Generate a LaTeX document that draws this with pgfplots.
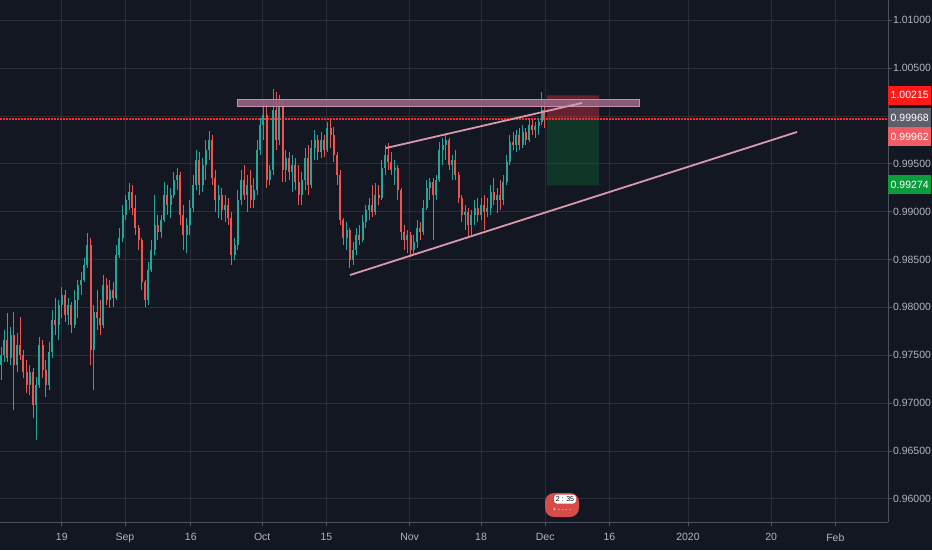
\documentclass[border=0pt]{standalone}
\usepackage{fontspec}
\setmainfont{Liberation Sans}
\usepackage{pgfplots}
\usepackage{pgfplotstable}
\pgfplotsset{compat=1.18}
\definecolor{bg}{HTML}{131722}
\definecolor{gridc}{HTML}{2A2E39}
\definecolor{axisc}{HTML}{4E525D}
\definecolor{labc}{HTML}{B2B5BE}
\definecolor{upc}{HTML}{26A69A}
\definecolor{dnc}{HTML}{EF5350}
\definecolor{pinkline}{HTML}{DA98AE}
\definecolor{pinkfill}{HTML}{946483}
\definecolor{pinkedge}{HTML}{C98FAC}
\definecolor{reddot}{HTML}{FF2A2A}
\definecolor{tagred}{HTML}{FF1A1A}
\definecolor{taggray}{HTML}{5D606B}
\definecolor{tagsal}{HTML}{F05D64}
\definecolor{taggreen}{HTML}{0C9C3C}
\definecolor{slred}{HTML}{F23645}
\definecolor{tpgreen}{HTML}{0A9A3A}

\pgfplotstableread{
d o h l c
-9.5 0.97398 0.97586 0.97241 0.97502
-9.0 0.97502 0.97764 0.97429 0.97659
-8.5 0.97659 0.97941 0.97429 0.97471
-8.0 0.97471 0.97795 0.97398 0.97711
-7.5 0.97711 0.97952 0.96928 0.97398
-7.0 0.97398 0.97732 0.97325 0.97607
-6.5 0.97607 0.97899 0.97450 0.97502
-6.0 0.97502 0.97555 0.97262 0.97325
-5.5 0.97325 0.97450 0.97105 0.97189
-5.0 0.97189 0.97398 0.97084 0.97325
-4.5 0.97325 0.97366 0.96844 0.96980
-4.0 0.96980 0.97272 0.96614 0.97189
-3.5 0.97189 0.97690 0.97157 0.97607
-3.0 0.97607 0.97659 0.97262 0.97346
-2.5 0.97346 0.97450 0.97063 0.97189
-2.0 0.97189 0.97638 0.97137 0.97534
-1.5 0.97534 0.97973 0.97471 0.97868
-1.0 0.97868 0.98098 0.97711 0.97816
-0.5 0.97816 0.98077 0.97659 0.98025
0.0 0.98025 0.98213 0.97889 0.98129
0.5 0.98129 0.98182 0.97847 0.97920
1.0 0.97920 0.98098 0.97816 0.98025
1.5 0.98025 0.98056 0.97732 0.97816
2.0 0.97816 0.98182 0.97784 0.98077
2.5 0.98077 0.98286 0.97889 0.98234
3.0 0.98234 0.98370 0.98129 0.98286
3.5 0.98286 0.98516 0.98265 0.98443
4.0 0.98443 0.98777 0.98411 0.98652
4.5 0.98652 0.98725 0.97398 0.97555
5.0 0.97555 0.98025 0.97137 0.97952
5.5 0.97952 0.98182 0.97764 0.97889
6.0 0.97889 0.98077 0.97711 0.97816
6.5 0.97816 0.98338 0.97784 0.98234
7.0 0.98234 0.98307 0.98025 0.98077
7.5 0.98077 0.98286 0.97993 0.98182
8.0 0.98182 0.98265 0.98004 0.98098
8.5 0.98098 0.98652 0.98077 0.98547
9.0 0.98547 0.98830 0.98516 0.98725
9.5 0.98725 0.99070 0.98683 0.98965
10.0 0.98965 0.99174 0.98913 0.99122
10.5 0.99122 0.99300 0.99017 0.99206
11.0 0.99206 0.99279 0.98965 0.99038
11.5 0.99038 0.99174 0.98756 0.98830
12.0 0.98830 0.98861 0.98600 0.98704
12.5 0.98704 0.98725 0.98182 0.98265
13.0 0.98265 0.98286 0.98004 0.98077
13.5 0.98077 0.98474 0.98025 0.98391
14.0 0.98391 0.98704 0.98370 0.98600
14.5 0.98600 0.99174 0.98547 0.98861
15.0 0.98861 0.98965 0.98704 0.98788
15.5 0.98788 0.98965 0.98725 0.98913
16.0 0.98913 0.99310 0.98892 0.99174
16.5 0.99174 0.99279 0.98965 0.99070
17.0 0.99070 0.99247 0.98934 0.99174
17.5 0.99174 0.99415 0.99143 0.99331
18.0 0.99331 0.99456 0.99227 0.99383
18.5 0.99383 0.99415 0.98861 0.98965
19.0 0.98965 0.99070 0.98600 0.98756
19.5 0.98756 0.98934 0.98568 0.98861
20.0 0.98861 0.99122 0.98756 0.99038
20.5 0.99038 0.99383 0.98997 0.99279
21.0 0.99279 0.99645 0.99227 0.99540
21.5 0.99540 0.99624 0.99174 0.99279
22.0 0.99279 0.99561 0.99206 0.99488
22.5 0.99488 0.99749 0.99331 0.99645
23.0 0.99645 0.99843 0.99540 0.99749
23.5 0.99749 0.99801 0.99279 0.99352
24.0 0.99352 0.99436 0.98997 0.99122
24.5 0.99122 0.99279 0.98934 0.99174
25.0 0.99174 0.99247 0.98913 0.99017
25.5 0.99017 0.99174 0.98892 0.99070
26.0 0.99070 0.99143 0.98861 0.98934
26.5 0.98934 0.98997 0.98443 0.98547
27.0 0.98547 0.98725 0.98495 0.98652
27.5 0.98652 0.99227 0.98600 0.99122
28.0 0.99122 0.99436 0.99070 0.99331
28.5 0.99331 0.99488 0.99122 0.99174
29.0 0.99174 0.99383 0.98997 0.99279
29.5 0.99279 0.99436 0.99038 0.99122
30.0 0.99122 0.99352 0.99038 0.99227
30.5 0.99227 0.99749 0.99174 0.99645
31.0 0.99645 0.99979 0.99592 0.99906
31.5 0.99906 1.00146 0.99749 1.00010
32.0 1.00010 1.00115 0.99247 0.99331
32.5 0.99331 0.99488 0.99279 0.99436
33.0 0.99436 1.00282 0.99383 1.00063
33.5 1.00063 1.00251 0.99645 0.99749
34.0 0.99749 1.00219 0.99697 1.00115
34.5 1.00115 1.00167 0.99310 0.99436
35.0 0.99436 0.99645 0.99310 0.99561
35.5 0.99561 0.99624 0.99331 0.99415
36.0 0.99415 0.99592 0.99206 0.99488
36.5 0.99488 0.99561 0.99227 0.99310
37.0 0.99310 0.99488 0.99070 0.99174
37.5 0.99174 0.99415 0.99070 0.99331
38.0 0.99331 0.99665 0.99227 0.99561
38.5 0.99561 0.99697 0.99174 0.99279
39.0 0.99279 0.99749 0.99247 0.99665
39.5 0.99665 0.99854 0.99540 0.99749
40.0 0.99749 0.99801 0.99540 0.99624
40.5 0.99624 0.99833 0.99561 0.99749
41.0 0.99749 0.99801 0.99571 0.99645
41.5 0.99645 0.99937 0.99624 0.99874
42.0 0.99874 0.99958 0.99665 0.99801
42.5 0.99801 0.99885 0.99519 0.99592
43.0 0.99592 0.99624 0.99279 0.99383
43.5 0.99383 0.99436 0.98861 0.98913
44.0 0.98913 0.98934 0.98652 0.98725
44.5 0.98725 0.98892 0.98600 0.98809
45.0 0.98809 0.98830 0.98411 0.98495
45.5 0.98495 0.98683 0.98443 0.98600
46.0 0.98600 0.98830 0.98547 0.98756
46.5 0.98756 0.98861 0.98652 0.98704
47.0 0.98704 0.98965 0.98683 0.98892
47.5 0.98892 0.99070 0.98830 0.99017
48.0 0.99017 0.99143 0.98913 0.99070
48.5 0.99070 0.99279 0.98944 0.98997
49.0 0.98997 0.99300 0.98965 0.99174
49.5 0.99174 0.99279 0.99070 0.99143
50.0 0.99143 0.99540 0.99122 0.99456
50.5 0.99456 0.99697 0.99383 0.99592
51.0 0.99592 0.99718 0.99436 0.99519
51.5 0.99519 0.99624 0.99383 0.99436
52.0 0.99436 0.99540 0.99279 0.99456
52.5 0.99456 0.99488 0.99122 0.99227
53.0 0.99227 0.99247 0.98704 0.98788
53.5 0.98788 0.98861 0.98600 0.98704
54.0 0.98704 0.98809 0.98568 0.98756
54.5 0.98756 0.98788 0.98526 0.98600
55.0 0.98600 0.98756 0.98547 0.98683
55.5 0.98683 0.98913 0.98620 0.98830
56.0 0.98830 0.98892 0.98704 0.98788
56.5 0.98788 0.99122 0.98756 0.99038
57.0 0.99038 0.99331 0.99017 0.99247
57.5 0.99247 0.99352 0.99122 0.99310
58.0 0.99310 0.99352 0.98704 0.99174
58.5 0.99174 0.99383 0.99122 0.99331
59.0 0.99331 0.99728 0.99310 0.99645
59.5 0.99645 0.99770 0.99488 0.99697
60.0 0.99697 0.99801 0.99540 0.99749
60.5 0.99749 0.99770 0.99436 0.99488
61.0 0.99488 0.99592 0.99331 0.99540
61.5 0.99540 0.99645 0.99331 0.99383
62.0 0.99383 0.99415 0.99091 0.99143
62.5 0.99143 0.99174 0.98892 0.98965
63.0 0.98965 0.99070 0.98809 0.98997
63.5 0.98997 0.99038 0.98735 0.98861
64.0 0.98861 0.99017 0.98756 0.98965
64.5 0.98965 0.99122 0.98861 0.99038
65.0 0.99038 0.99143 0.98892 0.98965
65.5 0.98965 0.99143 0.98913 0.99070
66.0 0.99070 0.99174 0.98809 0.98997
66.5 0.98997 0.99143 0.98944 0.99038
67.0 0.99038 0.99279 0.98965 0.99206
67.5 0.99206 0.99352 0.99070 0.99122
68.0 0.99122 0.99247 0.98986 0.99174
68.5 0.99174 0.99331 0.99017 0.99122
69.0 0.99122 0.99383 0.99070 0.99310
69.5 0.99310 0.99592 0.99279 0.99519
70.0 0.99519 0.99801 0.99488 0.99728
70.5 0.99728 0.99833 0.99645 0.99697
71.0 0.99697 0.99854 0.99624 0.99801
71.5 0.99801 0.99874 0.99645 0.99697
72.0 0.99697 0.99906 0.99665 0.99833
72.5 0.99833 0.99874 0.99697 0.99749
73.0 0.99749 0.99979 0.99728 0.99906
73.5 0.99906 0.99958 0.99801 0.99854
74.0 0.99854 0.99937 0.99770 0.99895
74.5 0.99895 0.99979 0.99801 0.99937
75.0 0.99937 1.00251 0.99906 1.00063
75.4 1.00063 1.00167 0.99874 0.99962
}\candles

\begin{document}
\begin{tikzpicture}
\useasboundingbox (0pt,0pt) rectangle (932pt,550pt);
\fill[bg] (0pt,0pt) rectangle (932pt,550pt);
\begin{axis}[
  at={(0pt,550pt)}, anchor=north west,
  scale only axis, width=888pt, height=522pt,
  xmin=-9.656, xmax=129.09, ymin=0.95757, ymax=1.01212,
  enlargelimits=false, clip=false,
  axis x line*=bottom, axis y line*=right,
  axis line style={-, draw=axisc, line width=0.9pt},
  tick align=outside, major tick length=4pt,
  tick style={draw=axisc, line width=0.8pt},
  grid=major, major grid style={draw=gridc, line width=0.8pt},
  xtick={0,9.86,20.16,31.31,41.34,54.34,65.5,75.53,85.56,97.83,110.83,120.86},
  xticklabels={19,Sep,16,Oct,15,Nov,18,Dec,16,2020,20,Feb},
  ytick={0.96,0.965,0.97,0.975,0.98,0.985,0.99,0.995,1.0,1.005,1.01},
  yticklabels={0.96000,0.96500,0.97000,0.97500,0.98000,0.98500,0.99000,0.99500,{},1.00500,1.01000},
  xticklabel style={font=\fontsize{10.5}{12}\selectfont, text=labc, yshift=-4pt},
  yticklabel style={font=\fontsize{10.5}{12}\selectfont, text=labc, anchor=west, xshift=-2.5pt},
]
% current price dotted line
\addplot[reddot, line width=1.2pt, dash pattern=on 1.5pt off 1.5pt] coordinates {(-9.656,0.99968) (129.09,0.99968)};
% candles: wicks and bodies
\addplot[upc, line width=0.7pt, quiver={u=0, v=\thisrow{h}-\thisrow{l}},
  restrict expr to domain={\thisrow{c}-\thisrow{o}}{0:1}] table[x=d, y=l] {\candles};
\addplot[upc, line width=1.9pt, quiver={u=0, v=\thisrow{c}-\thisrow{o}},
  restrict expr to domain={\thisrow{c}-\thisrow{o}}{0:1}] table[x=d, y=o] {\candles};
\addplot[dnc, line width=0.7pt, quiver={u=0, v=\thisrow{h}-\thisrow{l}},
  restrict expr to domain={\thisrow{c}-\thisrow{o}}{-1:-0.000001}] table[x=d, y=l] {\candles};
\addplot[dnc, line width=1.9pt, quiver={u=0, v=\thisrow{c}-\thisrow{o}},
  restrict expr to domain={\thisrow{c}-\thisrow{o}}{-1:-0.000001}] table[x=d, y=o] {\candles};
% position tool: stop (red) and target (green)
\addplot[draw=none, fill=slred, fill opacity=0.36] coordinates {(75.81,0.99968) (83.94,0.99968) (83.94,1.00215) (75.81,1.00215) (75.81,0.99968)};
\addplot[draw=none, fill=tpgreen, fill opacity=0.24] coordinates {(75.81,0.99274) (83.94,0.99274) (83.94,0.99968) (75.81,0.99968) (75.81,0.99274)};
% resistance zone
\addplot[draw=pinkedge, line width=1pt, fill=pinkfill, fill opacity=0.9] coordinates {(27.53,1.00099) (90.19,1.00099) (90.19,1.00177) (27.53,1.00177) (27.53,1.00099)};
% wedge lines
\addplot[pinkline, line width=1.8pt] coordinates {(50.66,0.99665) (81.28,1.00136)};
\addplot[pinkline, line width=1.8pt] coordinates {(45.03,0.98338) (114.88,0.99833)};
% price tags
\tikzset{tag/.style={anchor=west, text=white, inner sep=0pt, minimum width=43pt, minimum height=19pt, font=\fontsize{10.5}{12}\selectfont}}
\node[tag, fill=tagred] at (axis cs:129.09,1.00219) {1.00215};
\node[tag, fill=taggray] at (axis cs:129.09,0.99984) {0.99968};
\node[tag, fill=tagsal] at (axis cs:129.09,0.99786) {0.99962};
\node[tag, fill=taggreen] at (axis cs:129.09,0.99279) {0.99274};
\end{axis}
% event marker at the bottom
\node[fill=dnc!90!black, rounded corners=9pt, minimum width=34pt, minimum height=24pt, inner sep=0pt] at (562pt,45pt) {};
\node[fill=white, rounded corners=3pt, minimum width=22pt, minimum height=9pt, inner sep=0pt, text=black, font=\fontsize{7}{7}\selectfont] at (565pt,51pt) {2 : 35};
\node[text=white, inner sep=0pt, font=\fontsize{6}{6}\selectfont] at (562pt,40pt) {+ - - - -};
\end{tikzpicture}
\end{document}
